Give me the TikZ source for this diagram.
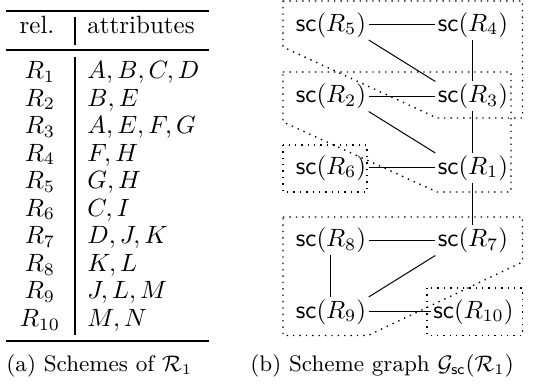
\documentclass[tikz,border=0pt]{standalone}
\usepackage{amsmath}
\begin{document}
\begin{tikzpicture}[x=0.4pt,y=-0.4pt,
  cell/.style={inner sep=0pt},
  scnode/.style={inner sep=0.8pt},
  hull/.style={dotted,line width=0.55pt}]
\useasboundingbox (0,0) rectangle (535,390);
% (a) the table of schemes
\draw[line width=0.8pt] (6,11) -- (209,11);
\draw[line width=0.55pt] (6,50) -- (209,50);
\draw[line width=0.8pt] (6,341) -- (209,341);
\draw[line width=0.6pt] (75,17) -- (75,45);
\draw[line width=0.6pt] (75,57) -- (75,335);
\node[cell,anchor=base] (relhead) at (37,33.5) {rel.};
\node[cell,anchor=base west] (atthead) at (87,33.5) {attributes};
\foreach \i/\attrs in {1/{A, B, C, D}, 2/{B, E}, 3/{A, E, F, G}, 4/{F, H},
    5/{G, H}, 6/{C, I}, 7/{D, J, K}, 8/{K, L}, 9/{J, L, M}, 10/{M, N}} {
  \node[cell,anchor=base] (rel\i) at (40,{78.5+27.55*(\i-1)}) {$R_{\i}$};
  \node[cell,anchor=base west] (att\i) at (87,{78.5+27.55*(\i-1)}) {$\attrs$};
}
\node[cell,anchor=base west,font=\small] (capa) at (6,372) {(a) Schemes of $\mathcal{R}_1$};
% (b) the scheme graph
\node[scnode] (r5) at (331,25) {$\mathsf{sc}(R_5)$};
\node[scnode] (r4) at (473,25) {$\mathsf{sc}(R_4)$};
\node[scnode] (r2) at (331,96.5) {$\mathsf{sc}(R_2)$};
\node[scnode] (r3) at (473,96.5) {$\mathsf{sc}(R_3)$};
\node[scnode] (r6) at (331,168) {$\mathsf{sc}(R_6)$};
\node[scnode] (r1) at (473,168) {$\mathsf{sc}(R_1)$};
\node[scnode] (r8) at (331,240.5) {$\mathsf{sc}(R_8)$};
\node[scnode] (r7) at (473,240.5) {$\mathsf{sc}(R_7)$};
\node[scnode] (r9) at (331,312) {$\mathsf{sc}(R_9)$};
\node[scnode] (r10) at (473.5,312) {$\mathsf{sc}(R_{10})$};
\draw (r5) -- (r4);
\draw (r5.south east) -- (r3.north west);
\draw (r4) -- (r3);
\draw (r2) -- (r3);
\draw (r2.south east) -- (r1.north west);
\draw (r3) -- (r1);
\draw (r6) -- (r1);
\draw (r1) -- (r7);
\draw (r8) -- (r7);
\draw (r8) -- (r9);
\draw (r9.north east) -- (r7.south west);
\draw (r9) -- (r10);
% dotted hulls
\draw[hull] (283,1) -- (522.5,1) -- (522.5,118) -- (437,118) -- (283,47) -- cycle;
\draw[hull] (283,72) -- (511,72) -- (511,192) -- (437,192) -- (283,122) -- cycle;
\draw[hull] (283,145) rectangle (367,192);
\draw[hull] (283,217) -- (522.5,217) -- (522.5,262) -- (368,335.5) -- (283,335.5) -- cycle;
\draw[hull] (427,288) rectangle (522.5,335.5);
\node[cell,anchor=base west,font=\small] (capb) at (250,372) {(b) Scheme graph $\mathcal{G}_{\mathsf{sc}}(\mathcal{R}_1)$};
\end{tikzpicture}
\end{document}
